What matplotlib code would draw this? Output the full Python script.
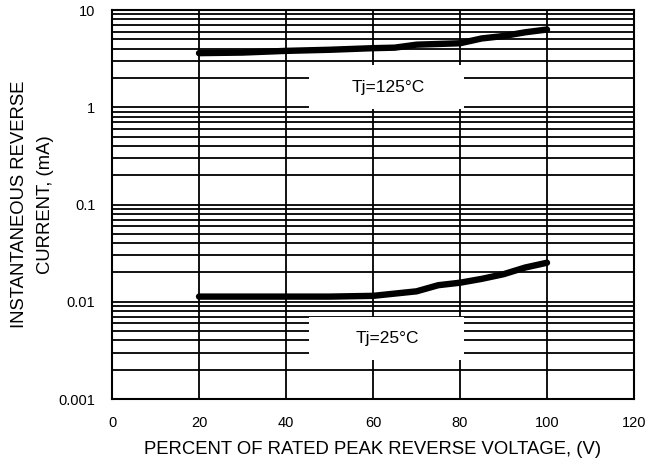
import matplotlib
matplotlib.use("Agg")
import matplotlib.pyplot as plt
from matplotlib.patches import Rectangle

plt.rcParams['font.family'] = ['Liberation Sans', 'DejaVu Sans']

v_125 = [20, 30, 40, 50, 60, 65, 70, 80, 85, 90, 95, 100]
i_125 = [3.6, 3.65, 3.8, 3.9, 4.05, 4.1, 4.4, 4.55, 5.1, 5.4, 5.9, 6.3]

v_25 = [20, 30, 40, 50, 60, 70, 75, 80, 85, 90, 95, 100]
i_25 = [0.0113, 0.0113, 0.0113, 0.0113, 0.0115, 0.0128, 0.0148, 0.0157, 0.0172, 0.0192, 0.0225, 0.0252]

xticks = [0, 20, 40, 60, 80, 100, 120]
yticks = [0.001, 0.01, 0.1, 1, 10]
ylabels = ['0.001', '0.01', '0.1', '1', '10']

fig = plt.figure(figsize=(6.49, 4.63), dpi=100)
ax = fig.add_axes([0.1726, 0.1382, 0.8043, 0.8402])

ax.set_yscale('log')
ax.set_xlim(0, 120)
ax.set_ylim(0.001, 10)
ax.set_xticks(xticks)
ax.set_xticklabels([str(t) for t in xticks])
ax.set_yticks(yticks)
ax.set_yticklabels(ylabels)
ax.tick_params(axis='both', which='both', length=0, labelsize=10.5, pad=12)
ax.tick_params(axis='y', which='minor', labelleft=False)

ax.grid(True, which='major', color='black', linewidth=1.3)
ax.grid(True, which='minor', axis='y', color='black', linewidth=1.3)
for s in ax.spines.values():
    s.set_color('black')
    s.set_linewidth(1.5)

ax.plot(v_125, i_125, color='black', linewidth=4.6, solid_capstyle='round', zorder=5)
ax.plot(v_25, i_25, color='black', linewidth=4.6, solid_capstyle='round', zorder=5)

# label boxes hiding the grid
ax.add_patch(Rectangle((45.3, 0.97), 35.7, 2.7 - 0.97, facecolor='white', edgecolor='none', zorder=3))
ax.add_patch(Rectangle((45.3, 0.0025), 35.7, 0.0070 - 0.0025, facecolor='white', edgecolor='none', zorder=3))
ax.text(63.6, 1.58, 'Tj=125\u00b0C', ha='center', va='center', fontsize=12.5, zorder=6)
ax.text(63.3, 0.0042, 'Tj=25\u00b0C', ha='center', va='center', fontsize=12.5, zorder=6)

ax.set_xlabel('PERCENT OF RATED PEAK REVERSE VOLTAGE, (V)', fontsize=13.3, labelpad=8)
ax.set_ylabel('INSTANTANEOUS REVERSE\nCURRENT, (mA)', fontsize=13.3, labelpad=3,
              linespacing=1.7)

fig.savefig('out.png', dpi=100)
